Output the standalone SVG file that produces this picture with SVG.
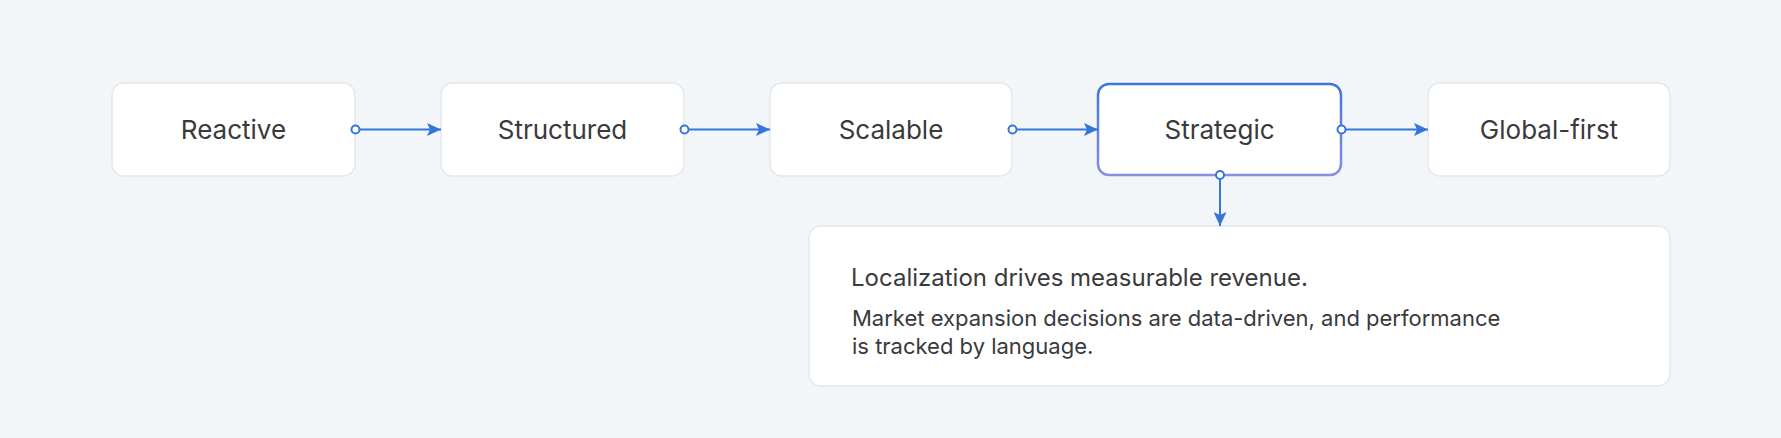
<svg xmlns="http://www.w3.org/2000/svg" width="1781" height="438" viewBox="0 0 1781 438">
<defs>
<style>
.node{fill:#ffffff;stroke:#e4e7eb;stroke-width:1.5}
.lbl{font-family:Inter,"Noto Sans",sans-serif;font-size:26px;fill:#3a3a3c;text-anchor:middle;dominant-baseline:central}
.edge{stroke:#3576dc;stroke-width:2;fill:none}
.dot{fill:#ffffff;stroke:#3576dc;stroke-width:2}
.h{font-family:Inter,"Noto Sans",sans-serif;font-size:24px;fill:#3a3a3c}
.p{font-family:Inter,"Noto Sans",sans-serif;font-size:22px;fill:#3a3a3c}
</style>
<linearGradient id="sg" x1="0" y1="0" x2="0" y2="1">
<stop offset="0" stop-color="#3a78dc"/>
<stop offset="1" stop-color="#8a8ee2"/>
</linearGradient>
<marker id="ah" viewBox="0 0 14 13" refX="14" refY="6.5" markerWidth="14" markerHeight="13" markerUnits="userSpaceOnUse" orient="auto">
<path d="M0,0 L14,6.5 L0,13 L3,6.5 Z" fill="#3576dc"/>
</marker>
</defs>
<rect width="1781" height="438" fill="#f3f6f9"/>
<g id="node-reactive">
<rect class="node" x="112" y="83" width="243" height="93" rx="12"/>
<text class="lbl" x="233.5" y="129.5">Reactive</text>
</g>
<g id="node-structured">
<rect class="node" x="441" y="83" width="243" height="93" rx="12"/>
<text class="lbl" x="562.5" y="129.5">Structured</text>
</g>
<g id="node-scalable">
<rect class="node" x="770" y="83" width="242" height="93" rx="12"/>
<text class="lbl" x="891" y="129.5">Scalable</text>
</g>
<g id="node-strategic">
<rect x="1098" y="84" width="243" height="91" rx="11" fill="#ffffff" stroke="url(#sg)" stroke-width="2.5"/>
<text class="lbl" x="1219.5" y="129.5">Strategic</text>
</g>
<g id="node-global">
<rect class="node" x="1428" y="83" width="242" height="93" rx="12"/>
<text class="lbl" x="1549" y="129.5">Global-first</text>
</g>
<g id="node-desc">
<rect class="node" x="809" y="226" width="861" height="160" rx="12"/>
<text class="h" x="851" y="286">Localization drives measurable revenue.</text>
<text class="p" x="852" y="326">Market expansion decisions are data-driven, and performance</text>
<text class="p" x="852" y="353.5">is tracked by language.</text>
</g>
<g id="connectors">
<line class="edge" x1="355.5" y1="129.5" x2="441" y2="129.5" marker-end="url(#ah)"/>
<line class="edge" x1="684.5" y1="129.5" x2="770" y2="129.5" marker-end="url(#ah)"/>
<line class="edge" x1="1012.5" y1="129.5" x2="1098" y2="129.5" marker-end="url(#ah)"/>
<line class="edge" x1="1341.5" y1="129.5" x2="1428" y2="129.5" marker-end="url(#ah)"/>
<line class="edge" x1="1220" y1="175" x2="1220" y2="226" marker-end="url(#ah)"/>
<circle class="dot" cx="355.5" cy="129.5" r="4"/>
<circle class="dot" cx="684.5" cy="129.5" r="4"/>
<circle class="dot" cx="1012.5" cy="129.5" r="4"/>
<circle class="dot" cx="1341.5" cy="129.5" r="4"/>
<circle class="dot" cx="1220" cy="175" r="4"/>
</g>
</svg>
